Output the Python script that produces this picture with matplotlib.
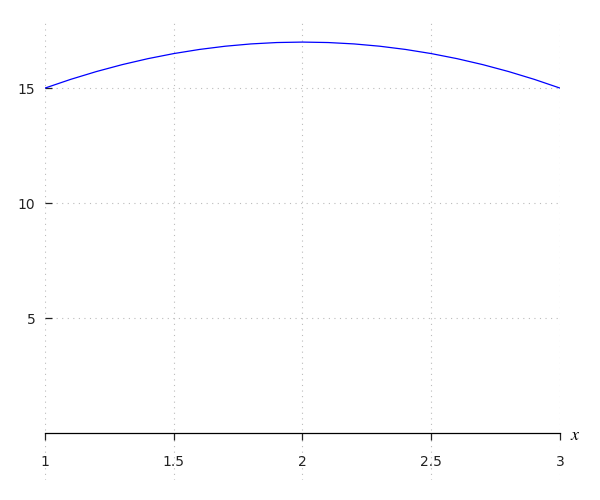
import matplotlib
matplotlib.use("Agg")
import matplotlib.pyplot as plt

# ---------- Data ----------
x_vals = [1.0, 1.1, 1.2, 1.3, 1.4, 1.5, 1.6, 1.7, 1.8, 1.9, 2.0,
          2.1, 2.2, 2.3, 2.4, 2.5, 2.6, 2.7, 2.8, 2.9, 3.0]
y_vals = [15.0, 15.38, 15.72, 16.02, 16.28, 16.5, 16.68, 16.82, 16.92, 16.98, 17.0,
          16.98, 16.92, 16.82, 16.68, 16.5, 16.28, 16.02, 15.72, 15.38, 15.0]
x_ticks = [1, 1.5, 2, 2.5, 3]
x_ticklabels = ["1", "1.5", "2", "2.5", "3"]
y_ticks = [5, 10, 15]
y_ticklabels = ["5", "10", "15"]

# ---------- Style ----------
plt.rcParams.update({
    "font.family": "DejaVu Sans",
    "font.size": 10,
    "mathtext.fontset": "stix",
})

fig = plt.figure(figsize=(6, 5), dpi=100)
ax = fig.add_axes([0.075, 0.04, 0.8583, 0.92])

ax.plot(x_vals, y_vals, color="blue", linewidth=0.9)

ax.set_xlim(1, 3)
ax.set_ylim(-2.04, 17.96)

ax.set_xticks(x_ticks)
ax.set_xticklabels(x_ticklabels)
ax.set_yticks(y_ticks)
ax.set_yticklabels(y_ticklabels)

for spine in ("top", "right", "left"):
    ax.spines[spine].set_visible(False)
ax.spines["bottom"].set_position(("data", 0))
ax.spines["bottom"].set_linewidth(0.9)

ax.tick_params(axis="x", direction="out", length=5, width=0.9, pad=11, colors="#222222")
ax.tick_params(axis="y", direction="in", length=5, width=0.9, pad=7, colors="#222222")

ax.grid(True, linestyle=(0, (1, 4)), color="#bbbbbb", linewidth=0.8)
ax.set_axisbelow(True)

# axis label next to the end of the x axis line
ax.annotate("$x$", xy=(3, 0), xycoords="data", xytext=(7, -1.5),
            textcoords="offset points", ha="left", va="center", fontsize=13)

fig.savefig("out.png", dpi=100)
plt.close(fig)
